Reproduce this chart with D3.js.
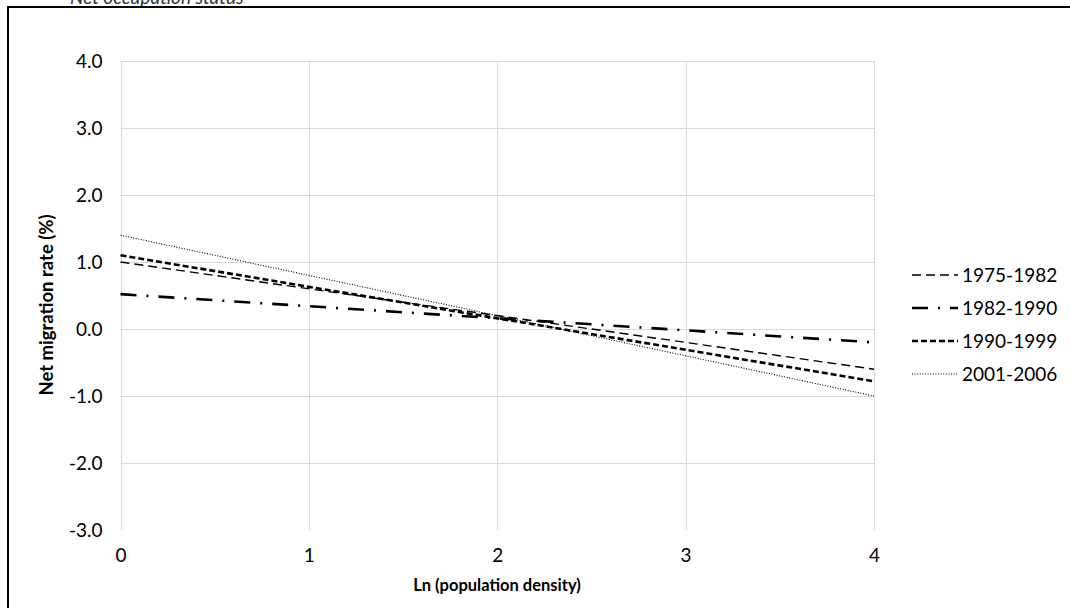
<!DOCTYPE html>
<html><head><meta charset="utf-8">
<script src="https://cdn.jsdelivr.net/npm/d3@7"></script>
<style>body{margin:0;background:#fff}svg{display:block}text{font-family:Lato,"Open Sans",sans-serif}</style>
</head><body>
<svg id="c" width="1070" height="608"></svg>
<script>
const series = ["1975-1982","1982-1990","1990-1999","2001-2006"];
const xPoints = [0, 4];
const values1975 = [1.0, -0.6];
const values1982 = [0.52, -0.2];
const values1990 = [1.1, -0.78];
const values2001 = [1.4, -1.0];
const yTicks = [-3, -2, -1, 0, 1, 2, 3, 4];
const xTicks = [0, 1, 2, 3, 4];
const allValues = [values1975, values1982, values1990, values2001];

const styles = [
  {dash:"9,5", w:1.4},
  {dash:"16,10,2,10", w:2.6},
  {dash:"6,3", w:2.6},
  {dash:"1,1.6", w:1.1}
];

const svg = d3.select("#c");
svg.append("text").attr("x",70).attr("y",4).attr("font-style","italic").attr("font-size",19).attr("fill","#333").text("Net occupation status");
svg.append("rect").attr("x",8).attr("y",7).attr("width",1100).attr("height",640).attr("fill","none").attr("stroke","#000").attr("stroke-width",2);

const x = d3.scaleLinear().domain([0,4]).range([120.5,874]);
const y = d3.scaleLinear().domain([-3,4]).range([530,61]);

const g = svg.append("g");
g.selectAll(".hg").data(yTicks.filter(d=>d>-3)).enter().append("line")
  .attr("x1",x(0)).attr("x2",x(4)).attr("y1",d=>Math.round(y(d))+0.5).attr("y2",d=>Math.round(y(d))+0.5)
  .attr("stroke","#d9d9d9").attr("stroke-width",1);
g.selectAll(".vg").data(xTicks).enter().append("line")
  .attr("x1",d=>Math.round(x(d))+0.5).attr("x2",d=>Math.round(x(d))+0.5).attr("y1",y(4)).attr("y2",y(-3))
  .attr("stroke","#d9d9d9").attr("stroke-width",1);

const fmtY = d => d3.format(".1f")(d).replace("\u2212","-");
const yAxis = d3.axisLeft(y).tickValues(yTicks).tickFormat(fmtY).tickSize(0).tickPadding(18);
const ya = svg.append("g").attr("transform",`translate(${x(0)},0)`).call(yAxis);
ya.select(".domain").remove();
ya.selectAll("text").attr("font-size",19).attr("fill","#000").attr("font-family","Lato,'Open Sans',sans-serif");

const xAxis = d3.axisBottom(x).tickValues(xTicks).tickFormat(d3.format("d")).tickSize(0).tickPadding(19);
const xa = svg.append("g").attr("transform",`translate(0,${y(-3)})`).call(xAxis);
xa.select(".domain").remove();
xa.selectAll("text").attr("font-size",19).attr("fill","#000").attr("font-family","Lato,'Open Sans',sans-serif");

svg.append("text").attr("x",497).attr("y",591).attr("text-anchor","middle").attr("font-weight","bold").attr("font-size",16.5).text("Ln (population density)");
svg.append("text").attr("transform","translate(53,305) rotate(-90)").attr("text-anchor","middle").attr("font-weight","bold").attr("font-size",18.5).text("Net migration rate (%)");

const line = d3.line().x((d,i)=>x(xPoints[i])).y(d=>y(d));
allValues.forEach((vals,i)=>{
  svg.append("path").attr("d",line(vals)).attr("fill","none").attr("stroke","#000")
    .attr("stroke-width",styles[i].w).attr("stroke-dasharray",styles[i].dash);
});

const leg = svg.append("g");
series.forEach((s,i)=>{
  const yy = 275 + i*33;
  leg.append("line").attr("x1",912).attr("x2",958).attr("y1",yy).attr("y2",yy).attr("stroke","#000")
    .attr("stroke-width",styles[i].w).attr("stroke-dasharray",styles[i].dash);
  leg.append("text").attr("x",962).attr("y",yy+7).attr("font-size",19).text(s);
});
</script>
</body></html>
